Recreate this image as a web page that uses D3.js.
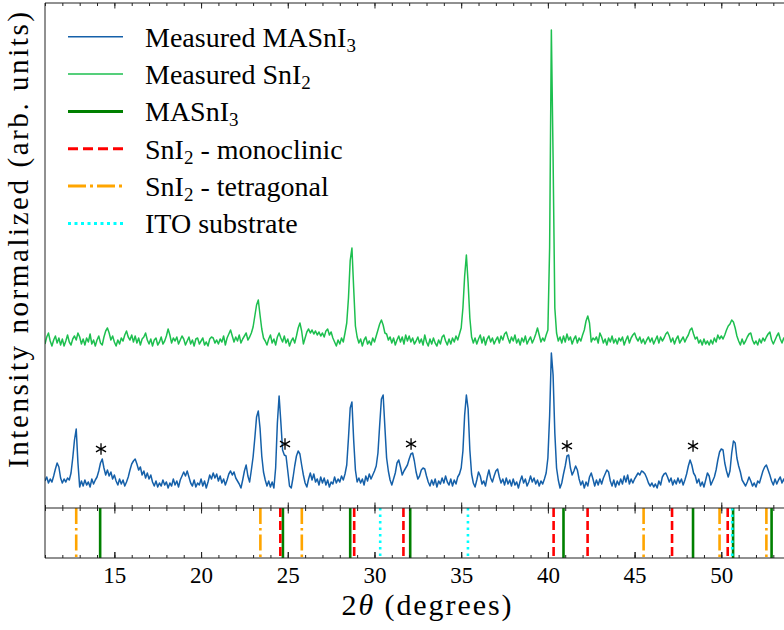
<!DOCTYPE html>
<html><head><meta charset="utf-8">
<script src="https://cdn.jsdelivr.net/npm/d3@7"></script>
<style>body{margin:0;background:#fff}svg{display:block}</style>
</head><body><svg id="c" width="784" height="630"></svg>
<script>
// 2θ grid of the measured patterns
const thetaStart = 11.0, thetaStep = 0.1;
// Measured MASnI3 (arb. units)
const measuredMASnI3 = [
5.4,6.2,5.0,5.8,5.2,6.4,7.8,9.0,8.2,6.0,
5.0,5.8,5.2,6.0,5.6,7.0,10.0,13.6,15.8,9.0,
4.2,5.4,4.4,5.6,4.6,5.2,4.2,5.8,4.8,5.6,
6.2,7.4,9.0,9.8,8.0,6.6,7.6,6.4,7.2,5.8,
6.6,5.4,4.6,5.8,4.8,5.6,4.4,5.2,6.2,7.6,
8.8,9.4,9.8,8.8,7.6,8.2,6.6,7.4,6.0,7.0,
5.8,6.6,5.2,4.4,5.4,4.2,5.0,4.4,5.6,4.6,
5.2,4.0,5.0,4.4,5.8,4.6,5.4,4.2,5.6,6.4,
7.2,6.4,7.4,6.2,5.0,4.4,5.6,4.2,5.0,4.6,
5.8,4.4,5.4,4.0,5.2,6.6,5.8,7.0,6.0,6.8,
5.4,6.4,5.0,5.8,4.6,5.6,6.8,7.4,6.6,7.2,
6.0,5.4,4.8,4.0,5.6,7.4,8.6,6.4,5.2,7.6,
10.2,14.0,18.2,19.4,16.0,10.4,7.2,5.6,4.4,5.4,
4.2,5.2,4.0,8.0,17.0,22.4,17.2,11.6,10.6,10.4,
7.4,4.4,4.0,6.0,8.4,10.4,11.4,10.8,8.6,6.6,
5.0,4.2,5.8,7.0,5.6,6.8,5.2,5.8,4.6,6.2,
5.0,6.0,4.6,5.6,4.2,5.2,4.8,6.2,5.0,5.8,
5.2,6.4,5.6,6.8,8.6,14.0,20.0,21.2,13.6,7.6,
5.2,6.0,5.0,5.8,4.6,6.4,5.4,6.8,5.8,6.6,
7.4,8.4,11.0,16.6,21.8,22.6,16.2,10.0,7.4,5.6,
4.6,5.8,7.0,9.0,9.6,8.2,6.6,7.4,8.0,8.6,
9.8,10.8,11.0,9.4,7.2,5.8,6.4,7.6,8.0,7.8,
6.4,5.2,4.4,5.6,4.6,5.8,4.2,5.4,4.8,6.0,
5.0,6.4,5.2,4.6,5.8,4.4,5.6,4.8,6.2,6.8,
8.0,11.4,18.6,22.6,19.8,11.6,6.8,5.0,4.2,5.6,
7.2,6.4,4.8,5.4,4.4,6.2,7.6,6.0,5.2,6.4,
7.4,7.8,6.2,5.0,5.8,4.6,6.0,4.8,5.6,4.4,
5.8,4.6,5.2,4.0,5.4,6.4,5.0,5.8,4.4,5.2,
6.4,5.2,6.0,4.8,5.6,4.4,5.4,4.8,5.8,7.0,
10.0,18.4,31.0,26.6,15.0,8.0,5.6,4.0,5.0,6.8,
8.4,10.4,10.6,8.0,6.6,7.4,8.4,7.6,5.8,4.6,
5.4,4.0,5.2,4.4,6.2,7.0,5.8,4.4,5.6,4.6,
5.8,4.8,6.0,6.8,7.6,7.2,5.4,4.4,5.6,4.2,
5.4,4.6,5.8,4.8,6.4,5.2,6.6,4.8,5.8,5.0,
5.8,6.4,7.0,6.6,7.4,7.2,6.8,6.0,5.0,4.4,
5.0,4.2,4.8,4.0,5.4,4.6,6.2,6.8,7.0,6.2,
5.2,6.0,4.6,5.6,4.8,6.0,5.0,5.8,4.6,5.6,
6.8,8.4,9.6,8.6,7.0,6.4,5.0,5.8,4.4,5.2,
4.2,5.6,7.0,6.4,4.6,5.4,6.2,7.6,9.6,11.2,
11.8,11.6,9.0,7.4,6.2,7.4,11.0,13.4,13.0,10.0,
8.4,7.2,5.6,5.0,4.4,5.2,6.2,5.4,4.4,5.0,
4.2,5.4,5.0,6.2,7.4,8.2,8.6,7.6,6.6,5.4,
4.6,5.8,4.8,5.6,6.2,5.0,5.8,4.8,5.4,5.0,
5.6];
// Measured SnI2 (arb. units)
const measuredSnI2 = [
32.8,34.2,35.0,33.4,32.4,33.6,34.4,33.0,34.0,32.6,
33.8,32.4,33.4,34.6,33.2,32.6,33.8,34.4,33.6,35.0,
34.2,32.8,33.8,32.6,34.0,33.2,34.8,32.8,33.6,32.4,
33.6,34.4,33.0,32.6,34.2,35.4,36.0,35.0,33.6,34.4,
33.2,32.4,33.6,32.8,34.0,33.4,34.6,35.4,34.2,33.6,
34.6,33.2,34.4,33.0,34.0,32.6,33.8,34.2,35.0,33.6,
32.8,33.8,32.4,33.6,34.0,32.6,33.2,34.2,32.8,33.4,
34.4,35.8,34.6,33.0,34.0,33.4,34.2,32.8,33.6,34.4,
33.8,32.6,33.4,34.2,32.8,33.6,32.4,33.8,34.0,32.8,
33.4,34.0,32.6,33.2,32.4,33.8,34.2,34.0,33.0,33.6,
32.8,33.8,33.2,34.4,32.6,34.0,34.8,35.6,34.4,33.2,
34.2,33.4,34.6,33.0,33.8,34.4,35.0,33.6,34.2,35.0,
36.2,38.4,40.6,41.6,38.6,35.8,34.0,33.4,32.6,33.8,
34.6,33.0,33.8,32.6,34.2,35.0,34.0,33.2,34.4,33.0,
33.8,32.4,33.4,34.0,33.0,34.4,36.0,37.0,35.4,32.8,
34.0,35.2,35.8,35.0,35.6,34.8,35.4,34.6,35.2,34.4,
35.0,34.2,35.4,35.8,34.6,35.2,34.0,33.2,32.4,33.6,
32.8,34.0,33.2,35.0,37.0,42.0,49.5,52.0,44.0,36.4,
34.2,33.0,33.8,32.4,33.6,34.2,32.8,33.4,32.6,34.0,
33.2,34.4,35.6,36.8,37.6,36.6,35.0,34.8,33.6,34.2,
33.0,34.0,32.6,33.6,34.4,33.2,34.2,32.8,34.6,33.4,
34.4,33.2,34.0,32.8,33.4,34.2,33.0,33.8,32.6,34.6,
33.2,32.4,33.8,32.8,34.0,33.0,32.4,33.6,32.8,34.2,
34.6,33.4,32.6,33.8,32.8,34.0,33.2,34.4,33.6,34.8,
36.0,40.0,46.4,50.6,45.0,38.0,34.2,33.0,34.0,32.8,
33.8,34.6,33.0,34.2,32.6,33.8,34.4,33.2,34.0,32.8,
33.6,34.2,33.0,34.4,33.6,34.8,35.2,34.0,33.0,34.2,
33.4,34.6,33.0,33.8,32.6,34.0,33.2,34.4,32.8,33.6,
34.2,33.0,33.8,34.8,36.0,34.6,33.2,34.0,33.4,34.6,
35.6,52.0,95.6,70.0,40.0,35.0,33.4,34.2,33.0,34.4,
33.2,34.8,33.6,34.2,32.8,33.8,34.4,33.0,34.0,33.4,
34.6,35.6,37.4,38.4,37.0,33.2,34.0,33.6,34.2,33.0,
35.0,34.2,33.0,33.8,32.6,34.0,33.2,34.4,33.0,33.8,
32.8,34.0,33.4,34.2,32.6,33.6,34.4,33.0,34.0,34.6,
35.0,34.0,33.4,34.2,33.0,33.8,32.8,33.6,34.2,33.2,
34.0,32.8,33.6,34.4,33.0,34.2,33.4,34.0,34.8,35.2,
34.4,33.2,34.0,32.8,33.8,34.4,33.0,33.6,34.2,33.2,
34.0,34.6,35.6,36.0,34.8,33.8,34.2,33.0,33.6,32.6,
33.8,32.8,33.4,32.6,33.6,32.8,34.0,33.2,34.6,33.8,
34.4,33.8,34.6,35.6,36.4,36.8,37.6,37.2,36.0,34.4,
33.4,32.6,33.8,32.8,33.4,34.2,34.8,35.0,33.6,32.8,
33.4,32.6,33.8,33.0,34.0,33.4,34.2,34.8,35.2,33.6,
32.8,33.6,34.4,35.0,33.8,33.0,34.0,33.2,34.2,33.4,
33.8];
// Reference peak positions (2θ, degrees)
const refMASnI3 = [14.18, 24.72, 28.6, 32.06, 40.9, 48.37, 50.68, 52.9];
const refSnI2Mono = [24.57, 28.83, 31.67, 40.33, 42.29, 47.16, 50.37];
const refSnI2Tetra = [12.8, 23.42, 25.81, 45.52, 49.9, 52.6];
const refITO = [30.33, 35.39, 50.63];
// asterisk markers (2θ, intensity)
const starX = [14.23, 24.84, 32.11, 41.1, 48.37];
const starY = [11.8, 12.8, 12.8, 12.4, 12.4];
const xMajorTicks = [15, 20, 25, 30, 35, 40, 45, 50, 55];
const xTickLabels = [15, 20, 25, 30, 35, 40, 45, 50];
const xMinorTicks = d3.range(11, 56, 1);

const W = 784, H = 630;
const L = 45, R = 808, T = 3, M = 508, B = 558;
const FONT = "'Liberation Serif', 'Times New Roman', serif";
const x = d3.scaleLinear().domain([11, 55]).range([L, R]);
const y = d3.scaleLinear().domain([0, 101]).range([M, T]);

const svg = d3.select('#c');
svg.append('rect').attr('width', W).attr('height', H).attr('fill', '#fff');
const defs = svg.append('defs');
defs.append('clipPath').attr('id', 'cpTop').append('rect')
  .attr('x', L).attr('y', T).attr('width', R - L).attr('height', M - T);
defs.append('clipPath').attr('id', 'cpBot').append('rect')
  .attr('x', L).attr('y', M).attr('width', R - L).attr('height', B - M);

const thetaOf = i => thetaStart + i * thetaStep;
const line = d3.line().x((d, i) => x(thetaOf(i))).y(d => y(d));

const gTop = svg.append('g').attr('clip-path', 'url(#cpTop)');
gTop.append('path').datum(measuredSnI2).attr('d', line)
  .attr('fill', 'none').attr('stroke', '#1dbf4f').attr('stroke-width', 1.5).attr('stroke-linejoin', 'round');
gTop.append('path').datum(measuredMASnI3).attr('d', line)
  .attr('fill', 'none').attr('stroke', '#1560a9').attr('stroke-width', 1.5).attr('stroke-linejoin', 'round');

const star = d3.symbol().type(d3.symbolAsterisk).size(95);
gTop.selectAll('path.star').data(starX).join('path').attr('class', 'star')
  .attr('d', star)
  .attr('transform', (d, i) => `translate(${x(d)},${y(starY[i])})`)
  .attr('fill', 'none').attr('stroke', '#000').attr('stroke-width', 1.3);

// reference sticks
const refs = [
  {vals: refMASnI3, color: 'green', dash: null},
  {vals: refSnI2Mono, color: 'red', dash: '9,4'},
  {vals: refSnI2Tetra, color: 'orange', dash: '16,4,2.5,4'},
  {vals: refITO, color: 'cyan', dash: '2.5,4'}
];
const gBot = svg.append('g').attr('clip-path', 'url(#cpBot)');
refs.forEach(r => {
  gBot.selectAll(null).data(r.vals).join('line')
    .attr('x1', d => x(d)).attr('x2', d => x(d))
    .attr('y1', M).attr('y2', B)
    .attr('stroke', r.color).attr('stroke-width', 2.6)
    .attr('stroke-dasharray', r.dash);
});

// axes (inward ticks)
function ticks(gen, yPos, size, values) {
  const g = svg.append('g').attr('transform', `translate(0,${yPos})`)
    .call(gen(x).tickValues(values).tickSize(size).tickFormat(''));
  g.select('.domain').remove();
  g.selectAll('line').attr('stroke', '#222').attr('stroke-width', 1);
  return g;
}
ticks(d3.axisBottom, T, 5.5, xMajorTicks);
ticks(d3.axisBottom, T, 3, xMinorTicks);
ticks(d3.axisTop, M, 5.5, xMajorTicks);
ticks(d3.axisTop, M, 3, xMinorTicks);
ticks(d3.axisBottom, M, 5.5, xMajorTicks);
ticks(d3.axisBottom, M, 3, xMinorTicks);
ticks(d3.axisTop, B, 3, xMinorTicks);
ticks(d3.axisTop, B, 6, xMajorTicks);
const gx = svg.append('g').attr('transform', `translate(0,${B})`)
  .call(d3.axisBottom(x).tickValues(xTickLabels).tickSize(-6).tickPadding(9).tickFormat(d3.format('d')));
gx.select('.domain').remove();
gx.selectAll('line').attr('stroke', '#222').attr('stroke-width', 1);
gx.selectAll('text').attr('font-family', FONT).attr('font-size', 23).attr('fill', '#000');

// spines
const spine = (x1, y1, x2, y2) => svg.append('line').attr('x1', x1).attr('y1', y1).attr('x2', x2).attr('y2', y2)
  .attr('stroke', '#222').attr('stroke-width', 1);
spine(L, T, R, T); spine(L, M, R, M); spine(L, B, R, B);
spine(L, T, L, B); spine(R, T, R, B);

// axis labels
const xl = svg.append('text').attr('x', (L + R) / 2).attr('y', 615).attr('text-anchor', 'middle')
  .attr('font-family', FONT).attr('font-size', 30).attr('fill', '#000')
  .attr('textLength', 170).attr('lengthAdjust', 'spacing');
xl.append('tspan').text('2');
xl.append('tspan').attr('font-style', 'italic').text('θ');
xl.append('tspan').text(' (degrees)');

svg.append('text').attr('transform', 'translate(28,240) rotate(-90)').attr('text-anchor', 'middle')
  .attr('font-family', FONT).attr('font-size', 29).attr('fill', '#000')
  .attr('textLength', 456).attr('lengthAdjust', 'spacing')
  .text('Intensity normalized (arb. units)');

// legend
const legendItems = [
  {parts: [['Measured MASnI', 0], ['3', 1]], color: '#1560a9', w: 1.5, dash: null},
  {parts: [['Measured SnI', 0], ['2', 1]], color: '#1dbf4f', w: 1.5, dash: null},
  {parts: [['MASnI', 0], ['3', 1]], color: 'green', w: 3, dash: null},
  {parts: [['SnI', 0], ['2', 1], [' - monoclinic', 0]], color: 'red', w: 3, dash: '10,5'},
  {parts: [['SnI', 0], ['2', 1], [' - tetragonal', 0]], color: 'orange', w: 3, dash: '18,4,3,4'},
  {parts: [['ITO substrate', 0]], color: 'cyan', w: 3, dash: '3,3.5'}
];
const lg = svg.append('g');
legendItems.forEach((it, i) => {
  const ry = 36.7 + i * 37.35;
  lg.append('line').attr('x1', 68).attr('x2', 123).attr('y1', ry).attr('y2', ry)
    .attr('stroke', it.color).attr('stroke-width', it.w).attr('stroke-dasharray', it.dash);
  const t = lg.append('text').attr('x', 145).attr('y', ry + 10)
    .attr('font-family', FONT).attr('font-size', 28).attr('fill', '#000');
  let sub = false;
  it.parts.forEach(([s, isSub]) => {
    const ts = t.append('tspan').text(s);
    if (isSub && !sub) { ts.attr('font-size', 19).attr('dy', 5); sub = true; }
    else if (!isSub && sub) { ts.attr('dy', -5); sub = false; }
  });
});
</script></body></html>
